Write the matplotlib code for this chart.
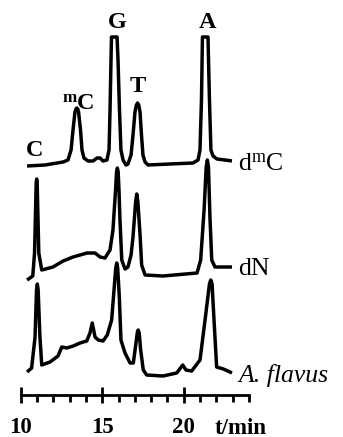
import matplotlib
matplotlib.use("Agg")
import matplotlib.pyplot as plt
from matplotlib.ticker import FixedLocator, FixedFormatter

plt.rcParams['font.family'] = ['Liberation Serif', 'DejaVu Serif']
plt.rcParams['mathtext.fontset'] = 'custom'
plt.rcParams['mathtext.rm'] = 'Liberation Serif'
plt.rcParams['mathtext.bf'] = 'Liberation Serif:bold'
plt.rcParams['mathtext.it'] = 'Liberation Serif:italic'

# ---- data: retention time (min) and detector signal (arbitrary units) ----
dmC_time = [10.39, 11.49, 12.60, 12.90, 13.09, 13.21, 13.33, 13.39, 13.44, 13.50,
            13.55, 13.67, 13.76, 13.88, 14.13, 14.44, 14.68, 14.87, 15.05, 15.29,
            15.42, 15.48, 15.54, 15.57, 15.91, 15.97, 16.06, 16.15, 16.28, 16.46,
            16.58, 16.77, 16.89, 17.01, 17.10, 17.17, 17.24, 17.32, 17.41, 17.50,
            17.63, 17.81, 19.16, 20.57, 20.88, 21.00, 21.09, 21.15, 21.49, 21.58,
            21.67, 21.80, 22.04, 22.53, 22.96]
dmC_signal = [0, 1, 4, 6, 16, 36, 54, 57, 58, 57,
              54, 36, 16, 8, 5, 5, 8, 8, 5, 6,
              16, 56, 106, 129, 129, 106, 56, 16, 6, 1,
              2, 11, 31, 54, 61, 63, 61, 54, 31, 11,
              4, 1, 2, 3, 6, 16, 66, 129, 129, 66,
              16, 10, 7, 6, 5]

dN_time = [10.39, 10.74, 10.85, 10.95, 10.98, 11.01, 11.11, 11.29, 11.98, 12.60,
           13.21, 14.07, 14.56, 14.87, 15.17, 15.48, 15.66, 15.82, 15.88, 15.93,
           15.98, 16.03, 16.09, 16.20, 16.40, 16.58, 16.77, 16.89, 17.05, 17.12,
           17.19, 17.33, 17.42, 17.63, 18.73, 20.82, 21.04, 21.25, 21.38, 21.45,
           21.52, 21.61, 21.72, 21.92, 22.84, 22.96]
dN_signal = [0, 4, 27, 97, 101, 97, 27, 10, 13, 19,
             23, 27, 27, 23, 22, 30, 50, 90, 108, 112,
             108, 90, 60, 20, 11, 13, 25, 43, 78, 86,
             78, 43, 15, 5, 4, 7, 20, 70, 113, 120,
             113, 63, 20, 13, 13, 13]

flavus_time = [10.39, 10.67, 10.88, 10.97, 11.02, 11.07, 11.18, 11.29, 11.80, 12.29,
               12.52, 12.82, 13.23, 13.64, 14.05, 14.25, 14.39, 14.56, 14.76, 15.05,
               15.31, 15.58, 15.74, 15.83, 15.89, 15.95, 16.05, 16.15, 16.40, 16.71,
               16.91, 17.08, 17.16, 17.21, 17.27, 17.36, 17.52, 17.73, 18.73, 19.57,
               19.94, 20.14, 20.49, 21.00, 21.31, 21.58, 21.66, 21.74, 21.86, 22.02,
               22.43, 22.84, 22.96]
flavus_signal = [0, 4, 35, 82, 88, 82, 35, 7, 10, 16,
                 25, 24, 26, 29, 31, 39, 49, 35, 32, 31,
                 37, 52, 85, 104, 109, 104, 75, 32, 19, 9,
                 9, 30, 40, 42, 39, 22, 2, -3, -4, -1,
                 7, 2, 1, 12, 52, 88, 92, 88, 52, 5,
                 3, 0, -1]

trace_names = [r'd$^{\mathrm{m}}$C', 'dN', 'A. flavus']
trace_name_styles = ['normal', 'normal', 'italic']
peak_labels = ['C', r'$^{\mathbf{m}}$C', 'G', 'T', 'A']
peak_label_times = [10.87, 13.55, 15.93, 17.20, 21.46]

major_ticks = [10, 15, 20]
major_labels = ['10', '15', '20']
minor_ticks = [11, 12, 13, 14, 16, 17, 18, 19, 21, 22, 23, 24]

# ---- layout ----
offsets = [271, 157, 65]
fig = plt.figure(figsize=(3.43, 4.37), dpi=100)
ax = fig.add_axes([0, 0, 1, 1])
ax.set_xlim(8.730, 29.773)
ax.set_ylim(0, 437)

lw = 2.5
traces = [(dmC_time, dmC_signal), (dN_time, dN_signal), (flavus_time, flavus_signal)]
end_label_dy = [-10, -8, -9]
for (t, s), off, name, sty, dy in zip(traces, offsets, trace_names, trace_name_styles, end_label_dy):
    ax.plot(t, [v + off for v in s], color='black', lw=lw,
            solid_joinstyle='round', solid_capstyle='butt')
    ax.text(23.33, s[-1] + off + dy, name, fontsize=18.5, style=sty,
            ha='left', va='baseline')

peak_label_y = [287, 333, 414, 351, 414]
for lab, tx, py in zip(peak_labels, peak_label_times, peak_label_y):
    ax.text(tx, py, lab, fontsize=17.5, fontweight='bold', ha='center', va='center')

# time axis
for side in ['top', 'left', 'right']:
    ax.spines[side].set_visible(False)
ax.spines['bottom'].set_position(('data', 42))
ax.spines['bottom'].set_bounds(10, 24)
ax.spines['bottom'].set_linewidth(2.0)
ax.xaxis.set_major_locator(FixedLocator(major_ticks))
ax.xaxis.set_major_formatter(FixedFormatter(major_labels))
ax.xaxis.set_minor_locator(FixedLocator(minor_ticks))
ax.tick_params(axis='x', which='major', direction='inout', length=11, width=2.0,
               pad=10, labelsize=16.5)
ax.tick_params(axis='x', which='minor', direction='out', length=5, width=2.0)
for lbl in ax.get_xticklabels():
    lbl.set_fontweight('bold')
ax.set_yticks([])
ax.text(23.47, 9, 't/min', fontsize=16.5, fontweight='bold', ha='center', va='center')

fig.savefig('out.png', dpi=100)
